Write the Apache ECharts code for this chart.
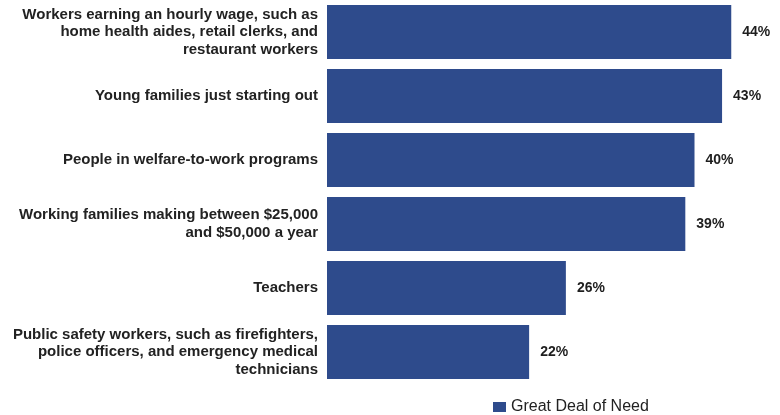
<!DOCTYPE html>
<html>
<head>
<meta charset="utf-8">
<script src="https://cdn.jsdelivr.net/npm/echarts@6/dist/echarts.min.js"></script>
<style>
  html, body { margin: 0; padding: 0; background: #fff; }
  #chart { width: 780px; height: 415px; }
</style>
</head>
<body>
<div id="chart"></div>
<script>
// categories, top to bottom
const categories = [
  "Workers earning an hourly wage, such as\nhome health aides, retail clerks, and\nrestaurant workers",
  "Young families just starting out",
  "People in welfare-to-work programs",
  "Working families making between $25,000\nand $50,000 a year",
  "Teachers",
  "Public safety workers, such as firefighters,\npolice officers, and emergency medical\ntechnicians"
];
const needValues = [44, 43, 40, 39, 26, 22];
const seriesName = "Great Deal of Need";

const chart = echarts.init(document.getElementById("chart"));
chart.setOption({
  animation: false,
  textStyle: { fontFamily: "Liberation Sans, Arial, sans-serif" },
  grid: { left: 327, right: 12, top: 0, height: 384, containLabel: false },
  legend: {
    data: [seriesName],
    left: 488,
    top: 394,
    itemWidth: 13,
    itemHeight: 10,
    itemGap: 5,
    icon: "rect",
    textStyle: { fontSize: 16, color: "#222" }
  },
  xAxis: {
    type: "value",
    min: 0,
    max: 48,
    show: false
  },
  yAxis: {
    type: "category",
    inverse: true,
    data: categories,
    axisLine: { show: false },
    axisTick: { show: false },
    axisLabel: {
      margin: 9,
      fontSize: 15,
      fontWeight: "bold",
      color: "#222",
      lineHeight: 17.5,
      align: "right"
    }
  },
  series: [{
    name: seriesName,
    type: "bar",
    data: needValues,
    barWidth: 54,
    itemStyle: { color: "#2e4b8c" },
    label: {
      show: true,
      position: "right",
      distance: 11,
      formatter: "{c}%",
      fontSize: 14,
      fontWeight: "bold",
      color: "#1e1e1e"
    }
  }]
});
</script>
</body>
</html>
